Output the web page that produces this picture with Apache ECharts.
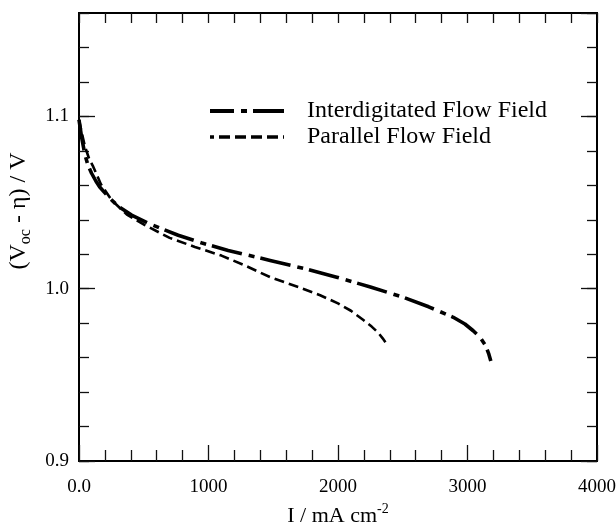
<!DOCTYPE html>
<html>
<head>
<meta charset="utf-8">
<script src="https://cdn.jsdelivr.net/npm/echarts@6/dist/echarts.min.js"></script>
<style>
html,body{margin:0;padding:0;background:#fff;}
#chart{width:616px;height:522px;}
</style>
</head>
<body>
<div id="chart"></div>
<script>
// ---- data ----
var seriesNames = ['Interdigitated Flow Field', 'Parallel Flow Field'];
var interdigitated = [
  [0,1.098],[10,1.093],[20,1.088],[45,1.078],[70,1.0715],[97,1.067],[130,1.0625],[160,1.059],
  [226,1.0534],[300,1.048],[406,1.0427],[550,1.0375],[766,1.031],[950,1.0265],[1152,1.0222],
  [1476,1.0164],[1750,1.0115],[1990,1.0067],[2250,1.001],[2504,0.995],[2700,0.9895],
  [2890,0.9834],[2980,0.9795],[3044,0.9756],[3100,0.9715],[3140,0.967],[3165,0.962],[3180,0.958]
];
var parallel = [
  [0,1.098],[10,1.0945],[20,1.091],[46,1.0825],[80,1.075],[110,1.0708],[170,1.0605],[252,1.0514],
  [370,1.043],[509,1.0369],[700,1.0295],[895,1.0242],[1100,1.0192],[1281,1.0135],
  [1476,1.0067],[1700,1.0008],[1862,0.9962],[2000,0.9915],[2100,0.9872],
  [2196,0.9818],[2260,0.978],[2310,0.9745],[2345,0.9712],[2376,0.9679]
];
var xTickValues = [0, 1000, 2000, 3000, 4000];
var xTickLabels = ['0.0', '1000', '2000', '3000', '4000'];
var yTickValues = [0.9, 1.0, 1.1];
var yTickLabels = ['0.9', '1.0', '1.1'];

function lookup(values, labels) {
  return function (v) {
    for (var i = 0; i < values.length; i++) {
      if (Math.abs(values[i] - v) < 1e-6) return labels[i];
    }
    return '';
  };
}

var FONT = 'Liberation Serif, DejaVu Serif, serif';
var axisLine = { show: true, lineStyle: { color: '#000', width: 2 } };
var tickStyle = { color: '#111', width: 1.3 };

var chart = echarts.init(document.getElementById('chart'), null, { renderer: 'canvas' });
chart.setOption({
  backgroundColor: '#fff',
  animation: false,
  color: ['#000', '#000'],
  textStyle: { fontFamily: FONT },
  grid: { left: 79, right: 19, top: 13, bottom: 61, containLabel: false, outerBoundsMode: 'none' },
  legend: {
    orient: 'vertical',
    left: 203,
    top: 94,
    itemWidth: 74,
    itemHeight: 14,
    itemGap: 2,
    itemStyle: { opacity: 0 },
    textStyle: { fontFamily: FONT, fontSize: 24, color: '#000', lineHeight: 24, padding: [0, 0, 0, 18] },
    data: [
      { name: seriesNames[0], itemStyle: { opacity: 0 }, lineStyle: { width: 4, type: [31, 7, 6, 6], dashOffset: 7, color: '#000' } },
      { name: seriesNames[1], itemStyle: { opacity: 0 }, lineStyle: { width: 3.3, type: [11, 5], color: '#000' } }
    ]
  },
  xAxis: [
    {
      type: 'value', position: 'bottom', min: 0, max: 4000, interval: 1000,
      axisLine: axisLine,
      axisTick: { show: true, inside: true, length: 16, lineStyle: tickStyle },
      minorTick: { show: true, splitNumber: 5, length: 11, lineStyle: tickStyle },
      splitLine: { show: false },
      axisLabel: { fontFamily: FONT, fontSize: 19, color: '#000', margin: 17, formatter: lookup(xTickValues, xTickLabels) },
      name: '{n|I / mA cm}{sup|-2}',
      nameLocation: 'middle',
      nameGap: 20,
      nameTextStyle: {
        fontFamily: FONT,
        rich: {
          n: { fontFamily: FONT, fontSize: 22, color: '#000', lineHeight: 28, verticalAlign: 'middle' },
          sup: { fontFamily: FONT, fontSize: 14, color: '#000', lineHeight: 14, verticalAlign: 'top' }
        }
      }
    },
    {
      type: 'value', position: 'top', min: 0, max: 4000, interval: 200,
      axisLine: axisLine,
      axisTick: { show: true, inside: true, length: 10, lineStyle: tickStyle },
      splitLine: { show: false },
      axisLabel: { show: false }
    }
  ],
  yAxis: [
    {
      type: 'value', position: 'left', min: 0.9, max: 1.16, interval: 0.1,
      axisLine: axisLine,
      axisTick: { show: true, inside: true, length: 16, lineStyle: tickStyle },
      splitLine: { show: false },
      axisLabel: { fontFamily: FONT, fontSize: 19, color: '#000', margin: 10, showMaxLabel: false, formatter: lookup(yTickValues, yTickLabels) },
      name: '{n|(V}{sub|oc}{n| - η) / V}',
      nameLocation: 'middle',
      nameGap: 45,
      nameTextStyle: {
        fontFamily: FONT,
        padding: [0, 0, 0, 52],
        rich: {
          n: { fontFamily: FONT, fontSize: 24, color: '#000', lineHeight: 30, verticalAlign: 'middle' },
          sub: { fontFamily: FONT, fontSize: 16, color: '#000', lineHeight: 19, verticalAlign: 'bottom' }
        }
      }
    },
    {
      type: 'value', position: 'left', min: 0.9, max: 1.16, interval: 0.02,
      axisLine: axisLine,
      axisTick: { show: true, inside: true, length: 10, lineStyle: tickStyle },
      splitLine: { show: false },
      axisLabel: { show: false }
    },
    {
      type: 'value', position: 'right', min: 0.9, max: 1.16, interval: 0.1,
      axisLine: axisLine,
      axisTick: { show: true, inside: true, length: 16, lineStyle: tickStyle },
      splitLine: { show: false },
      axisLabel: { show: false }
    },
    {
      type: 'value', position: 'right', min: 0.9, max: 1.16, interval: 0.02,
      axisLine: axisLine,
      axisTick: { show: true, inside: true, length: 10, lineStyle: tickStyle },
      splitLine: { show: false },
      axisLabel: { show: false }
    }
  ],
  series: [
    {
      name: seriesNames[0], type: 'line', data: interdigitated, xAxisIndex: 0, yAxisIndex: 0,
      symbol: 'none', smooth: false,
      itemStyle: { color: '#000' },
      lineStyle: { color: '#000', width: 3.6, type: [31, 7, 6, 6] }
    },
    {
      name: seriesNames[1], type: 'line', data: parallel, xAxisIndex: 0, yAxisIndex: 0,
      symbol: 'none', smooth: false,
      itemStyle: { color: '#000' },
      lineStyle: { color: '#000', width: 2.6, type: [10, 5] }
    }
  ]
});
</script>
</body>
</html>
